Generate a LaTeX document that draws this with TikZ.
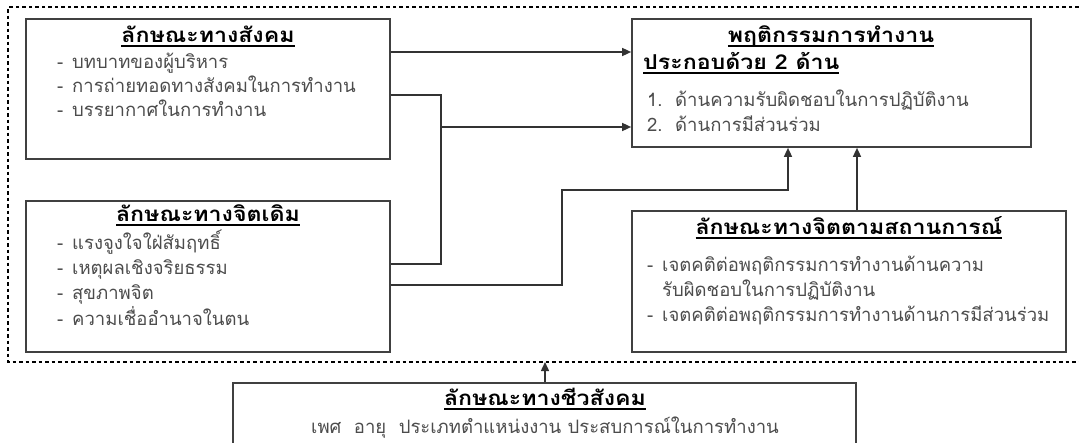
\documentclass[tikz,border=0pt]{standalone}
\usepackage{fontspec}
\setmainfont[Script=Thai]{Loma}
\usetikzlibrary{arrows.meta,fit}
\newcommand\ulx[1]{\setbox0\hbox{#1}\rlap{\rule[-4.5pt]{\wd0}{1.4pt}}\box0}
\begin{document}
\begin{tikzpicture}[x=1pt,y=-1pt,
  box/.style={draw=black!75,line width=1.7pt,inner sep=0pt,rectangle},
  frame/.style={draw=black,line width=2.6pt,dash pattern=on 3.5pt off 3pt},
  conn/.style={draw=black!80,line width=1.5pt},
  arr/.style={conn,-{Triangle[length=9pt,width=8pt]}},
  ttl/.style={anchor=base,font=\fontsize{20.5}{24}\selectfont\bfseries\addfontfeatures{FakeStretch=1.13},text=black,inner sep=0pt},
  itm/.style={anchor=base west,font=\fontsize{18.5}{22}\selectfont,text=black!70,inner sep=0pt},
  dsh/.style={anchor=base west,font=\fontsize{18.5}{22}\selectfont,text=black!70,inner sep=0pt}]
\useasboundingbox (0,0) rectangle (1079,442);
\clip (0,0) rectangle (1079,442);
% dotted frame
\draw[frame] (1085,7) -- (8,7) -- (8,362) -- (1085,362);
% boxes
\node[box,fit={(26,19) (390,159)}] (b1) {};
\node[box,fit={(26,201) (390,352)}] (b2) {};
\node[box,fit={(632,19) (1031,147)}] (tg) {};
\node[box,fit={(632,211) (1066,352)}] (b3) {};
\node[box,fit={(233,383) (856,460)}] (b4) {};
% box 1 text
\node[ttl] (t1) at (208,42) {\ulx{ลักษณะทางสังคม}};
\node[dsh] (d11) at (57,68) {-};
\node[itm] (i11) at (72,68) {บทบาทของผู้บริหาร};
\node[dsh] (d12) at (57,92) {-};
\node[itm] (i12) at (72,92) {การถ่ายทอดทางสังคมในการทำงาน};
\node[dsh] (d13) at (57,116) {-};
\node[itm] (i13) at (72,116) {บรรยากาศในการทำงาน};
% box 2 text
\node[ttl] (t2) at (208,221) {\ulx{ลักษณะทางจิตเดิม}};
\node[dsh] (d21) at (57,249) {-};
\node[itm] (i21) at (72,249) {แรงจูงใจใฝ่สัมฤทธิ์};
\node[dsh] (d22) at (57,274) {-};
\node[itm] (i22) at (72,274) {เหตุผลเชิงจริยธรรม};
\node[dsh] (d23) at (57,299) {-};
\node[itm] (i23) at (72,299) {สุขภาพจิต};
\node[dsh] (d24) at (57,325) {-};
\node[itm] (i24) at (72,325) {ความเชื่ออำนาจในตน};
% target text
\node[ttl] (tt) at (831,42) {\ulx{พฤติกรรมการทำงาน}};
\node[ttl,anchor=base west] (tt2) at (643,69) {\ulx{ประกอบด้วย 2 ด้าน}};
\node[dsh] (n1) at (647,106) {1.};
\node[itm] (j1) at (675,106) {ด้านความรับผิดชอบในการปฏิบัติงาน};
\node[dsh] (n2) at (647,131) {2.};
\node[itm] (j2) at (675,131) {ด้านการมีส่วนร่วม};
% box 3 text
\node[ttl] (t3) at (849,234) {\ulx{ลักษณะทางจิตตามสถานการณ์}};
\node[dsh] (d31) at (647,271) {-};
\node[itm] (i31) at (662,271) {เจตคติต่อพฤติกรรมการทำงานด้านความ};
\node[itm] (i31b) at (662,296) {รับผิดชอบในการปฏิบัติงาน};
\node[dsh] (d32) at (647,321) {-};
\node[itm] (i32) at (662,321) {เจตคติต่อพฤติกรรมการทำงานด้านการมีส่วนร่วม};
% box 4 text
\node[ttl] (t4) at (545,405) {\ulx{ลักษณะทางชีวสังคม}};
\node[itm,anchor=base] (i4) at (545,433) {เพศ\ \ อายุ\ \ ประเภทตำแหน่งงาน ประสบการณ์ในการทำงาน};
% connectors
\coordinate (r1) at (0,52);
\coordinate (jt) at (441,95);
\coordinate (jb) at (441,264);
\coordinate (jm) at (441,127);
\coordinate (k1) at (562,285);
\coordinate (k2) at (562,190);
\coordinate (k3) at (788,190);
\coordinate (k4) at (857,0);
\coordinate (fb) at (545,362);
\draw[arr] (b1.east |- r1) -- (tg.west |- r1);
\draw[conn] (b1.east |- jt) -- (jt) -- (jb) -- (b2.east |- jb);
\draw[arr] (jm) -- (tg.west |- jm);
\draw[arr] (b2.east |- k1) -- (k1) -- (k2) -- (k3) -- (tg.south -| k3);
\draw[arr] (b3.north -| k4) -- (tg.south -| k4);
\draw[arr] (b4.north -| fb) -- (fb);
\end{tikzpicture}
\end{document}
